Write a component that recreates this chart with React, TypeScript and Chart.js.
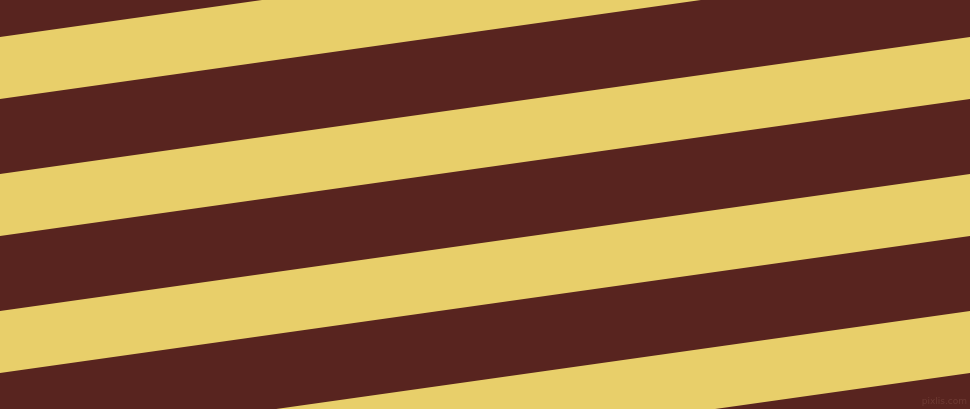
import React, { useEffect, useRef } from "react";
import Chart from "chart.js/auto";

// stripe edges, read at the left (x = 0) and right (x = 970) borders
const edgeX = [0, 970];
const bandNames = ["band 0", "band 1", "band 2", "band 3", "band 4"];
const topLeft = [-100, 37, 174, 311, 448];
const topRight = [-237, -100, 37, 174, 311];
const bottomLeft = [-38, 99, 236, 373, 510];
const bottomRight = [-175, -38, 99, 236, 373];

const DARK = "#58241F";
const YELLOW = "#E8CF6A";

const App: React.FC = () => {
  const chartRef = useRef<HTMLCanvasElement | null>(null);
  const chartInstanceRef = useRef<Chart | null>(null);

  useEffect(() => {
    document.body.style.margin = "0";
    if (!chartRef.current) return;
    const ctx = chartRef.current.getContext("2d");
    if (!ctx) return;

    if (chartInstanceRef.current) {
      chartInstanceRef.current.destroy();
    }

    const datasets: any[] = [];
    bandNames.forEach((name, i) => {
      datasets.push({
        label: name + " top",
        data: [
          { x: edgeX[0], y: topLeft[i] },
          { x: edgeX[1], y: topRight[i] },
        ],
        borderWidth: 0,
        pointRadius: 0,
        fill: false,
      });
      datasets.push({
        label: name + " bottom",
        data: [
          { x: edgeX[0], y: bottomLeft[i] },
          { x: edgeX[1], y: bottomRight[i] },
        ],
        borderWidth: 0,
        pointRadius: 0,
        backgroundColor: YELLOW,
        fill: "-1",
      });
    });

    chartInstanceRef.current = new Chart(ctx, {
      type: "line",
      data: { datasets },
      options: {
        animation: false,
        responsive: true,
        maintainAspectRatio: false,
        layout: { padding: 0 },
        scales: {
          x: { type: "linear", min: 0, max: 970, display: false },
          y: { type: "linear", min: 0, max: 409, reverse: true, display: false },
        },
        plugins: {
          legend: { display: false },
          tooltip: { enabled: false },
        },
      },
    });

    return () => {
      if (chartInstanceRef.current) {
        chartInstanceRef.current.destroy();
        chartInstanceRef.current = null;
      }
    };
  }, []);

  return (
    <div
      style={{
        position: "relative",
        width: "970px",
        height: "409px",
        background: DARK,
        overflow: "hidden",
      }}
    >
      <canvas ref={chartRef}></canvas>
      <div
        style={{
          position: "absolute",
          right: "3px",
          bottom: "3px",
          fontFamily: "'DejaVu Sans', sans-serif",
          fontSize: "9px",
          color: "#6E3A33",
        }}
      >
        pixlis.com
      </div>
    </div>
  );
};

export default App;
